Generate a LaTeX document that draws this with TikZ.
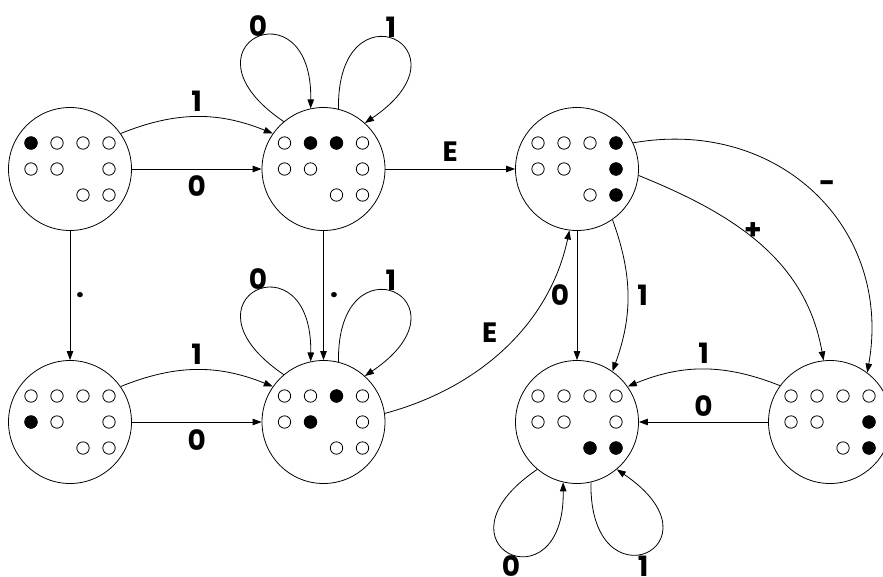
\documentclass[tikz,border=0pt]{standalone}
\usepackage{fontspec}
\setmainfont{Poppins}
\usetikzlibrary{arrows.meta,calc}
\newcommand\statedots[2]{%
  \foreach \c/\r in {0/0,1/0,2/0,3/0,0/1,1/1,3/1,2/2,3/2}
    \draw[hole] ($(#1)+(\c*26-39,\r*26-26)$) circle[radius=6.2pt];
  \foreach \c/\r in {#2}
    \fill ($(#1)+(\c*26-39,\r*26-26)$) circle[radius=6.6pt];
}
\begin{document}
\begin{tikzpicture}[x=1pt,y=-1pt,line width=0.8pt,
  state/.style={circle,draw,minimum size=123pt,inner sep=0pt},
  arr/.style={-{Triangle[length=9pt,width=6.5pt]}},
  lab/.style={font=\fontsize{28}{28}\selectfont\bfseries,inner sep=0pt},
  hole/.style={draw,line width=0.8pt}]
\useasboundingbox (0,0) rectangle (883,576);
\clip (0,0) rectangle (883,576);

\node[state] (A) at (70,169) {};
\node[state] (B) at (323.5,169) {};
\node[state] (C) at (577,169) {};
\node[state] (D) at (70,422) {};
\node[state] (E) at (323.5,422) {};
\node[state] (F) at (577,422) {};
\node[state] (G) at (830,422) {};

\statedots{A}{0/0}
\statedots{B}{1/0,2/0}
\statedots{C}{3/0,3/1,3/2}
\statedots{D}{0/1}
\statedots{E}{2/0,1/1}
\statedots{F}{2/2,3/2}
\statedots{G}{3/1,3/2}

% top row
\draw[arr] (A.35) to[bend left=22] node[lab,yshift=16pt]{1} (B.145);
\draw[arr] (A) -- node[lab,yshift=-17pt]{0} (B);
\draw[arr] (B.130) .. controls +(-112,-76) and +(2,-128) .. (B.102.5)
  node[lab,pos=.5,xshift=2pt,yshift=12pt]{0};
\draw[arr] (B.76.6) .. controls +(-2,-128) and +(112,-76) .. (B.48.5)
  node[lab,pos=.5,xshift=-2pt,yshift=12pt]{1};
\draw[arr] (B) -- node[lab,yshift=17pt]{E} (C);

% verticals
\draw[arr] (A) -- node[lab,xshift=10pt]{.} (D);
\draw[arr] (B) -- node[lab,xshift=10.5pt]{.} (E);

% bottom row
\draw[arr] (D.35) to[bend left=22] node[lab,yshift=16pt]{1} (E.145);
\draw[arr] (D) -- node[lab,yshift=-18pt]{0} (E);
\draw[arr] (E.130) .. controls +(-112,-76) and +(2,-128) .. (E.102.5)
  node[lab,pos=.5,xshift=2pt,yshift=12pt]{0};
\draw[arr] (E.76.6) .. controls +(-2,-128) and +(112,-76) .. (E.48.5)
  node[lab,pos=.5,xshift=-2pt,yshift=12pt]{1};
\draw[arr] (E.8) to[out=15,in=-102,looseness=0.95]
  node[lab,pos=.5,xshift=-15pt,yshift=15pt]{E} (C.263.5);

% right part
\draw[arr] (C) -- node[lab,xshift=-17pt]{0} (F);
\draw[arr] (C.-55) to[bend left=20] node[lab,xshift=15pt]{1} (F.55);
\draw[arr] (C.-6.5) to[out=-22,in=100] node[lab,pos=.5,xshift=-7pt,yshift=13pt]{+} (G.96.6);
\draw[arr] (C.25) to[out=10,in=80,looseness=1.15] node[lab,pos=.5,xshift=13pt,yshift=7pt]{-} (G.53.5);
\draw[arr] (G.144) to[bend right=22] node[lab,yshift=16pt]{1} (F.35);
\draw[arr] (G) -- node[lab,yshift=16pt]{0} (F);
\draw[arr] (F.230) .. controls +(-112,76) and +(2,128) .. (F.257.5)
  node[lab,pos=.5,xshift=2pt,yshift=-14pt]{0};
\draw[arr] (F.283.4) .. controls +(-2,128) and +(112,76) .. (F.310)
  node[lab,pos=.5,xshift=-2pt,yshift=-14pt]{1};
\end{tikzpicture}
\end{document}
